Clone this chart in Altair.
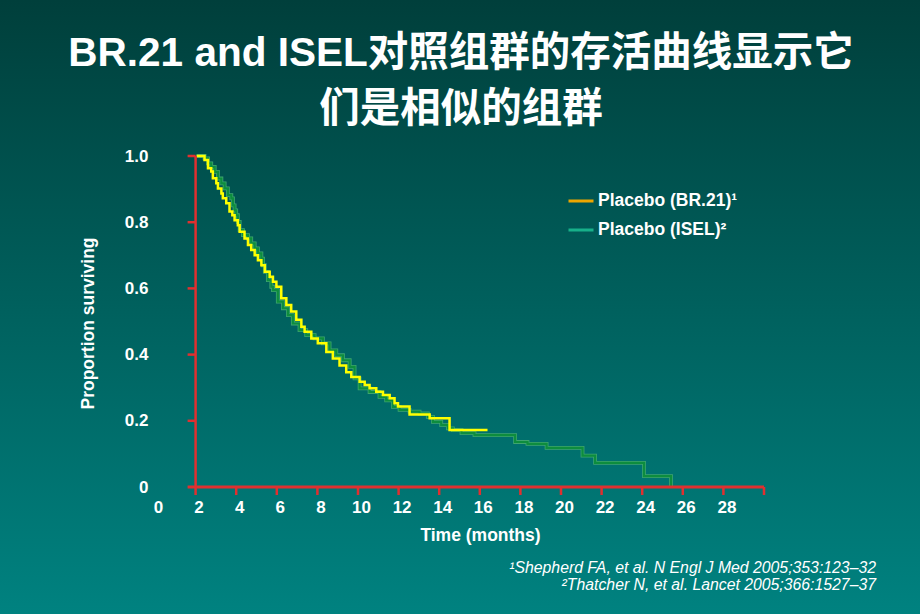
import altair as alt
import pandas as pd

TITLE_LINES = ["BR.21 and ISEL对照组群的存活曲线显示它", "们是相似的组群"]
SERIES = ["Placebo (BR.21)¹", "Placebo (ISEL)²"]
LEGEND_COLORS = ["#eea600", "#17b08a"]
FOOTNOTES = ["¹Shepherd FA, et al. N Engl J Med 2005;353:123–32",
             "²Thatcher N, et al. Lancet 2005;366:1527–37"]
X_TITLE = "Time (months)"
Y_TITLE = "Proportion surviving"

X_LABELS = [0, 2, 4, 6, 8, 10, 12, 14, 16, 18, 20, 22, 24, 26, 28]
X_TICKS = [2, 4, 6, 8, 10, 12, 14, 16, 18, 20, 22, 24, 26, 28, 30]
Y_LABELS = [0, 0.2, 0.4, 0.6, 0.8, 1.0]
Y_TICKS = [0.2, 0.4, 0.6, 0.8, 1.0]

BR21_T = [2.05, 2.44, 2.61, 2.77, 2.85, 3.02, 3.10, 3.27, 3.34, 3.51,
          3.67, 3.81, 3.92, 4.08, 4.17, 4.41, 4.58, 4.74, 4.91, 5.07,
          5.24, 5.41, 5.65, 5.81, 5.98, 6.22, 6.47, 6.71, 6.96, 7.21,
          7.37, 7.70, 8.02, 8.44, 8.76, 9.09, 9.42, 9.67, 10.08, 10.33,
          10.57, 10.90, 11.23, 11.56, 11.80, 11.97, 12.54, 13.53, 14.51, 16.38]
BR21_S = [1.0, 0.988, 0.963, 0.953, 0.933, 0.918, 0.902, 0.887, 0.872, 0.857,
          0.832, 0.821, 0.806, 0.791, 0.771, 0.751, 0.731, 0.716, 0.700, 0.685,
          0.670, 0.650, 0.635, 0.620, 0.605, 0.570, 0.550, 0.530, 0.505, 0.484,
          0.469, 0.449, 0.434, 0.408, 0.388, 0.367, 0.347, 0.332, 0.318, 0.308,
          0.298, 0.288, 0.278, 0.268, 0.253, 0.243, 0.219, 0.208, 0.172, 0.172]

ISEL_T = [2.05, 2.44, 2.61, 2.77, 2.94, 3.10, 3.27, 3.43, 3.59, 3.76,
          3.84, 3.92, 4.00, 4.08, 4.17, 4.33, 4.58, 4.74, 4.91, 5.07,
          5.24, 5.32, 5.41, 5.56, 5.73, 5.81, 6.05, 6.30, 6.55, 6.79,
          7.12, 7.45, 7.86, 8.27, 8.60, 8.93, 9.26, 9.59, 9.83, 10.08,
          10.57, 11.06, 11.39, 11.72, 12.05, 12.54, 13.03, 13.44, 13.69, 14.10,
          14.43, 14.67, 15.10, 15.74, 17.74, 18.35, 19.29, 21.06, 21.68, 24.09,
          25.42]
ISEL_S = [1.0, 0.993, 0.978, 0.967, 0.952, 0.932, 0.917, 0.902, 0.882, 0.872,
          0.851, 0.836, 0.821, 0.801, 0.776, 0.761, 0.751, 0.736, 0.721, 0.706,
          0.690, 0.670, 0.650, 0.625, 0.605, 0.595, 0.560, 0.540, 0.519, 0.494,
          0.474, 0.459, 0.449, 0.434, 0.413, 0.398, 0.383, 0.363, 0.328, 0.298,
          0.287, 0.272, 0.262, 0.242, 0.233, 0.228, 0.222, 0.212, 0.197, 0.187,
          0.177, 0.172, 0.163, 0.157, 0.136, 0.130, 0.118, 0.095, 0.073, 0.033,
          0.0]

FONT = "Liberation Sans"
TITLE_FONT = "Liberation Sans, Noto Sans CJK SC"
RED = "#e03030"

W, H = 609, 331
PAD = {"left": 155, "top": 156, "right": 156, "bottom": 127}

br = pd.DataFrame({"t": BR21_T, "s": BR21_S, "series": SERIES[0]})
isel = pd.DataFrame({"t": ISEL_T, "s": ISEL_S, "series": SERIES[1]})
both = pd.concat([br, isel], ignore_index=True)
one = pd.DataFrame({"k": [0]})

x_scale = alt.Scale(domain=[0, 30], nice=False, zero=False)
y_scale = alt.Scale(domain=[0, 1], nice=False)

x_axis = alt.Axis(values=X_LABELS, ticks=False, domain=False, grid=False,
                  labelFlush=False, labelPadding=12, labelOffset=3,
                  labelColor="white", labelFont=FONT, labelFontWeight="bold",
                  labelFontSize=17, title=X_TITLE, titleColor="white",
                  titleFont=FONT, titleFontWeight="bold", titleFontSize=17.5,
                  titleX=325, titleY=48, titleBaseline="middle", titleAlign="center",
                  zindex=1)
y_axis = alt.Axis(values=Y_LABELS, ticks=False, domain=False, grid=False,
                  labelExpr="datum.value == 0 ? '0' : format(datum.value, '.1f')",
                  labelPadding=7, labelColor="white", labelFont=FONT,
                  labelFontWeight="bold", labelFontSize=17,
                  title=Y_TITLE, titleColor="white", titleFont=FONT,
                  titleFontWeight="bold", titleFontSize=17.5, titleAngle=270,
                  titleX=-67, titleY=167, titleAlign="center", titleBaseline="middle",
                  zindex=1)


def X():
    return alt.X("t:Q", scale=x_scale, axis=x_axis)


def Y():
    return alt.Y("s:Q", scale=y_scale, axis=y_axis)


bg = alt.Chart(one).mark_rect(
    color=alt.LinearGradient(
        gradient="linear",
        stops=[alt.GradientStop(offset=0, color="#003f3b"),
               alt.GradientStop(offset=1, color="#008280")],
        x1=0, x2=0, y1=0, y2=1)
).encode(x=alt.value(-PAD["left"]), x2=alt.value(W + PAD["right"]),
         y=alt.value(-PAD["top"]), y2=alt.value(H + PAD["bottom"]))

legend_layer = alt.Chart(both).mark_line(opacity=0).encode(
    x=X(), y=Y(),
    color=alt.Color("series:N", scale=alt.Scale(domain=SERIES, range=LEGEND_COLORS),
                    legend=alt.Legend(orient="none", legendX=412, legendY=31, title=None,
                                      symbolType="stroke", symbolSize=625,
                                      symbolStrokeWidth=3, symbolOpacity=1,
                                      labelColor="white", labelFont=FONT,
                                      labelFontWeight="bold", labelFontSize=17.5,
                                      labelOffset=3, rowPadding=6, padding=0)))

isel_halo = alt.Chart(isel).mark_line(interpolate="step-after", color="#3ea56f",
                                      strokeWidth=3.8).encode(x=X(), y=Y())
isel_core = alt.Chart(isel).mark_line(interpolate="step-after", color="#0d8d3e",
                                      strokeWidth=2.2).encode(x=X(), y=Y())
br_line = alt.Chart(br).mark_line(interpolate="step-after", color="#ffff00",
                                  strokeWidth=2.5).encode(x=X(), y=Y())

x_line = alt.Chart(one).mark_rule(color=RED, strokeWidth=2.8, xOffset=-8).encode(
    x=alt.XDatum(2, type="quantitative", scale=x_scale, axis=x_axis),
    x2=alt.X2Datum(30),
    y=alt.YDatum(0, type="quantitative", scale=y_scale, axis=y_axis))
y_line = alt.Chart(one).mark_rule(color=RED, strokeWidth=2.5).encode(
    x=alt.XDatum(2, type="quantitative", scale=x_scale, axis=x_axis),
    y=alt.YDatum(0, type="quantitative", scale=y_scale, axis=y_axis),
    y2=alt.Y2Datum(1))
x_ticks = alt.Chart(pd.DataFrame({"t": X_TICKS})).mark_tick(
    orient="vertical", size=8, thickness=2.5, yOffset=4, color=RED, opacity=1
).encode(x=X(), y=alt.YDatum(0, type="quantitative", scale=y_scale, axis=y_axis))
y_ticks = alt.Chart(pd.DataFrame({"s": Y_TICKS})).mark_tick(
    orient="horizontal", size=8, thickness=2.5, xOffset=-4, color=RED, opacity=1
).encode(y=Y(), x=alt.XDatum(2, type="quantitative", scale=x_scale, axis=x_axis))

title = alt.Chart(one).mark_text(
    text=TITLE_LINES, font=TITLE_FONT, fontSize=40.5, fontWeight="bold", color="white",
    align="center", baseline="alphabetic", lineHeight=56
).encode(x=alt.value(306), y=alt.value(-90))

foot = alt.Chart(one).mark_text(
    text=FOOTNOTES, font=FONT, fontSize=15.8, fontStyle="italic", color="white",
    align="right", baseline="middle", lineHeight=17
).encode(x=alt.value(721), y=alt.value(412))

chart = alt.layer(
    bg, legend_layer, isel_halo, isel_core, br_line,
    x_line, y_line, x_ticks, y_ticks, title, foot
).properties(
    width=W, height=H, padding=PAD,
    autosize=alt.AutoSizeParams(type="none"),
    background="#003f3b"
).configure_view(stroke=None)

chart.save("out.html", embed_options={"renderer": "svg", "actions": False})
